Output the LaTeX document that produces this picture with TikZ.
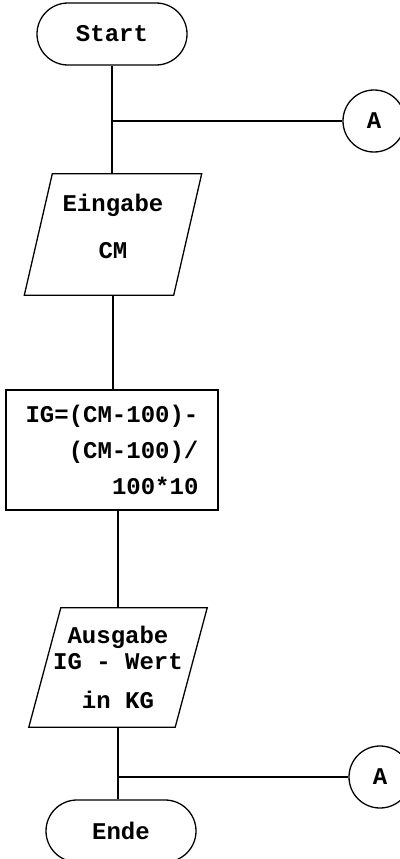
\documentclass[tikz,border=0pt]{standalone}
\usepackage{fontspec}
\setmonofont{Liberation Mono}
\begin{document}
\begin{tikzpicture}[x=1pt,y=-1pt,
  every node/.style={font=\ttfamily\bfseries\fontsize{24}{26}\selectfont},
  line/.style={line width=1.3pt},
  term/.style={draw,line width=1.3pt,rounded corners=31pt,minimum width=150pt,minimum height=62pt,inner sep=0pt},
  procbox/.style={draw,line width=1.3pt,minimum width=212pt,minimum height=120pt,inner sep=0pt,align=right},
  iobox/.style={inner sep=0pt,align=center},
  conn/.style={draw,circle,line width=1.3pt,minimum size=62pt,inner sep=0pt}]
\useasboundingbox (0,0) rectangle (399,859);
% nodes
\node[term] (start) at (112,34) {\raisebox{-3pt}{Start}};
\node[conn] (a1) at (374,121) {A};
\node[iobox,minimum width=149pt,minimum height=121pt] (in) at (113,234.5) {Eingabe\\[21pt]CM\rule[-17pt]{0pt}{17pt}};
\node[procbox] (proc) at (112,450) {IG=(CM-100)-\\[10pt](CM-100)/\\[10pt]100*10};
\node[iobox,minimum width=146pt,minimum height=119pt] (out) at (118,667.5) {Ausgabe\\IG - Wert\\[13pt]in KG};
\node[conn] (a2) at (380,777) {A};
\node[term] (ende) at (121,831) {Ende};
% parallelogram outlines
\draw[line] ([xshift=14pt]in.north west) -- ([xshift=14pt]in.north east) -- ([xshift=-14pt]in.south east) -- ([xshift=-14pt]in.south west) -- cycle;
\draw[line] ([xshift=16pt]out.north west) -- ([xshift=16pt]out.north east) -- ([xshift=-16pt]out.south east) -- ([xshift=-16pt]out.south west) -- cycle;
% connectors
\draw[line] (start.south) -- (start.south |- in.north);
\coordinate (j1) at (start.south |- a1.west);
\draw[line] (j1) -- (a1.west);
\draw[line] (in.south) -- (in.south |- proc.north);
\draw[line] (out.north |- proc.south) -- (out.north);
\draw[line] (out.south) -- (out.south |- ende.north);
\coordinate (j2) at (out.south |- a2.west);
\draw[line] (j2) -- (a2.west);
\end{tikzpicture}
\end{document}
